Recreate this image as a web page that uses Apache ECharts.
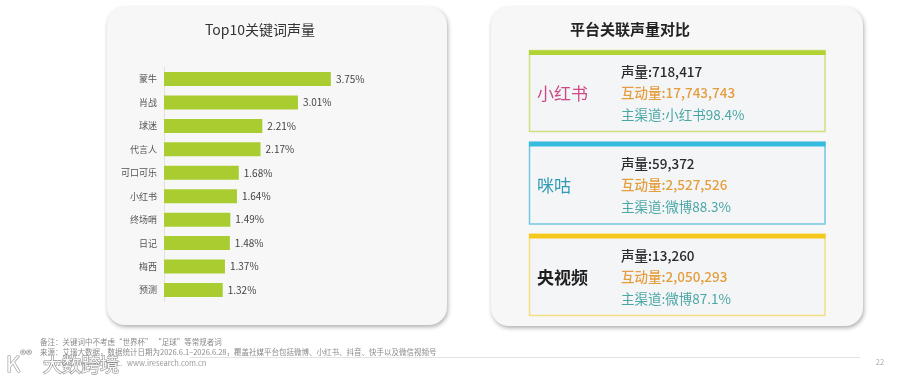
<!DOCTYPE html>
<html>
<head>
<meta charset="utf-8">
<script src="https://cdn.jsdelivr.net/npm/echarts@6/dist/echarts.min.js"></script>
<style>
html,body{margin:0;padding:0;background:#fff;}
#c{width:900px;height:379px;}
</style>
</head>
<body>
<div id="c"></div>
<script>
// ---- data ----
var categories = ['蒙牛','肖战','球迷','代言人','可口可乐','小红书','终场哨','日记','梅西','预测'];
var shares = [3.75, 3.01, 2.21, 2.17, 1.68, 1.64, 1.49, 1.48, 1.37, 1.32];

var platforms = ['小红书','咪咕','央视频'];
var volumes = ['718,417','59,372','13,260'];
var interactions = ['17,743,743','2,527,526','2,050,293'];
var mainChannels = ['小红书98.4%','微博88.3%','微博87.1%'];

var leftTitle = 'Top10关键词声量';
var rightTitle = '平台关联声量对比';
var noteLines = [
  '备注：关键词中不考虑“世界杯” “足球”等常规者词',
  '来源：艾瑞大数据，数据统计日期为2026.6.1–2026.6.28，覆盖社媒平台包括微博、小红书、抖音、快手以及微信视频号',
  '©2026.7 iResearch Inc.   www.iresearch.com.cn'
];
var pageNo = '22';

// ---- styles ----
var FF = '"Noto Sans CJK SC","Noto Sans",sans-serif';
var boxStyles = [
  {bar:'#b3d234', border:'#cfe07e', label:'#cc4a86', weight:'normal'},
  {bar:'#35bde0', border:'#74c8df', label:'#2f9bb5', weight:'normal'},
  {bar:'#f6c81c', border:'#f2df82', label:'#1e1e1e', weight:'bold'}
];
var boxTops = [50.5, 142, 234];
var boxBottoms = [131.5, 224, 315.5];

var graphics = [];
// cards
graphics.push({type:'rect', z:-10, shape:{x:107,y:7,width:340,height:318,r:18},
  style:{fill:'#f7f7f7', shadowBlur:4, shadowOffsetY:2, shadowOffsetX:1, shadowColor:'rgba(0,0,0,0.32)'}});
graphics.push({type:'rect', z:-10, shape:{x:491,y:7,width:372,height:319,r:18},
  style:{fill:'#f7f7f7', shadowBlur:4, shadowOffsetY:2, shadowOffsetX:1, shadowColor:'rgba(0,0,0,0.32)'}});
// titles
graphics.push({type:'text', style:{text:leftTitle, x:260, y:30, textAlign:'center', textVerticalAlign:'middle',
  fill:'#333', fontSize:14, fontFamily:FF}});
graphics.push({type:'text', style:{text:rightTitle, x:630, y:29, textAlign:'center', textVerticalAlign:'middle',
  fill:'#222', fontSize:15, fontWeight:'bold', fontFamily:FF}});
// platform boxes
for (var i=0;i<platforms.length;i++){
  var s = boxStyles[i], t = boxTops[i], b = boxBottoms[i];
  graphics.push({type:'rect', z:-5, shape:{x:529.5,y:t,width:295.5,height:b-t},
    style:{fill:'#f4f5f7', stroke:s.border, lineWidth:1.5}});
  graphics.push({type:'rect', z:-4, shape:{x:529,y:t,width:296.5,height:4.5},
    style:{fill:s.bar}});
  var mid = (t+4.5+b)/2;
  graphics.push({type:'text', style:{text:platforms[i], x:537, y:mid+0.5, textVerticalAlign:'middle',
    fill:s.label, fontSize:17, fontWeight:s.weight, fontFamily:FF}});
  graphics.push({type:'text', style:{text:'声量:'+volumes[i], x:621, y:mid-21, textVerticalAlign:'middle',
    fill:'#2a2a2a', fontSize:13.5, fontWeight:500, fontFamily:FF}});
  graphics.push({type:'text', style:{text:'互动量:'+interactions[i], x:621, y:mid, textVerticalAlign:'middle',
    fill:'#e49e3e', fontSize:13.5, fontWeight:500, fontFamily:FF}});
  graphics.push({type:'text', style:{text:'主渠道:'+mainChannels[i], x:621, y:mid+21.5, textVerticalAlign:'middle',
    fill:'#4ba7a5', fontSize:13.5, fontFamily:FF}});
}
// footer
graphics.push({type:'line', shape:{x1:190,y1:357.5,x2:860,y2:357.5}, style:{stroke:'#e3e3e3', lineWidth:1}});
graphics.push({type:'text', style:{text:noteLines[0], x:40, y:342, textVerticalAlign:'middle', fill:'#8a8a8a', fontSize:7.5, fontFamily:FF}});
graphics.push({type:'text', style:{text:noteLines[1], x:40, y:352, textVerticalAlign:'middle', fill:'#8a8a8a', fontSize:7.5, fontFamily:FF}});
graphics.push({type:'text', style:{text:noteLines[2], x:43, y:363, textVerticalAlign:'middle', fill:'#9a9a9a', fontSize:7.5, fontFamily:FF}});
graphics.push({type:'text', style:{text:pageNo, x:880, y:362.5, textAlign:'center', textVerticalAlign:'middle', fill:'#aaa', fontSize:7.5, fontFamily:FF}});
// watermark
graphics.push({type:'text', z:20, style:{text:'K', x:6, y:364, textVerticalAlign:'middle', fill:'rgba(255,255,255,0.92)',
  stroke:'rgba(120,120,120,0.8)', lineWidth:1.2, fontSize:22, fontFamily:FF}});
graphics.push({type:'text', z:20, style:{text:'°°', x:20, y:356, textVerticalAlign:'middle', fill:'rgba(255,255,255,0.92)',
  stroke:'rgba(120,120,120,0.8)', lineWidth:1.2, fontSize:16, fontFamily:FF}});
graphics.push({type:'text', z:20, style:{text:'大数跨境', x:43, y:365, textVerticalAlign:'middle', fill:'rgba(255,255,255,0.9)',
  stroke:'rgba(120,120,120,0.8)', lineWidth:1.2, fontSize:19, fontFamily:FF}});

var chart = echarts.init(document.getElementById('c'), null, {renderer:'canvas'});
chart.setOption({
  animation:false,
  backgroundColor:'#ffffff',
  graphic: graphics,
  grid:{left:164, top:67.3, width:178, height:234.4, containLabel:false},
  xAxis:{type:'value', min:0, max:4, show:false},
  yAxis:{type:'category', data:categories, inverse:true,
    axisLine:{show:true, lineStyle:{color:'#e2e2e2', width:1}},
    axisTick:{show:false},
    axisLabel:{color:'#555', fontSize:9, margin:7, fontFamily:FF},
    splitLine:{show:false}},
  series:[{
    type:'bar', data:shares, barWidth:14,
    itemStyle:{color:'#a9cd30'},
    label:{show:true, position:'right', distance:5, color:'#444', fontSize:10, fontFamily:FF,
      formatter:function(p){return p.value.toFixed(2)+'%';}}
  }]
});
</script>
</body>
</html>
